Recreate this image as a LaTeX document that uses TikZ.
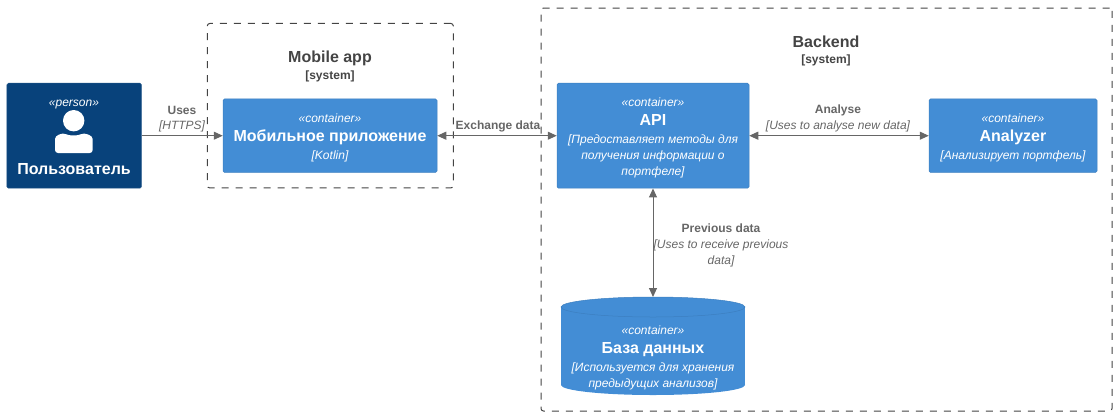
\documentclass[tikz,border=0pt]{standalone}
\usepackage{fontspec}
\setmainfont{Liberation Sans}
\usetikzlibrary{arrows.meta}
\definecolor{personblue}{HTML}{08427B}
\definecolor{containerblue}{HTML}{438DD5}
\definecolor{cylinderedge}{HTML}{3C7FC0}
\definecolor{boundarygrey}{HTML}{444444}
\definecolor{relgrey}{HTML}{666666}
\newcommand{\stereo}[1]{{\rule{0pt}{14bp}\fontsize{12bp}{16bp}\selectfont\itshape #1}}
\newcommand{\boxname}[1]{{\fontsize{16bp}{19bp}\selectfont\bfseries #1}}
\newcommand{\boxdesc}[1]{{\fontsize{12bp}{16bp}\selectfont\itshape #1}}
\tikzset{
  boxbase/.style={rectangle,rounded corners=1.5bp,text=white,align=center,inner sep=0pt,
    font=\fontsize{12bp}{16bp}\selectfont},
  personbox/.style={boxbase,fill=personblue,draw=personblue!90!white,line width=.5bp},
  containerbox/.style={boxbase,fill=containerblue,draw=containerblue!90!black,line width=.5bp},
  boundary/.style={rectangle,draw=boundarygrey,line width=1bp,rounded corners=2.5bp,
    dash pattern=on 7bp off 7bp},
  boundarytitle/.style={text=boundarygrey,align=center,inner sep=0pt,
    font=\fontsize{16bp}{19bp}\selectfont\bfseries},
  boundarytag/.style={text=boundarygrey,inner sep=0pt,font=\fontsize{12bp}{16bp}\selectfont\bfseries},
  rel/.style={draw=relgrey,line width=1bp,-{Triangle[length=9bp,width=8bp]}},
  birel/.style={rel,{Triangle[length=9bp,width=8bp]}-{Triangle[length=9bp,width=8bp]}},
  reltitle/.style={text=relgrey,inner sep=0pt,font=\fontsize{12bp}{16bp}\selectfont\bfseries},
  reltech/.style={text=relgrey,inner sep=0pt,align=center,font=\fontsize{12bp}{16bp}\selectfont\itshape},
}
\begin{document}
\begin{tikzpicture}[x=1bp,y=-1bp]
  \useasboundingbox (0,0) rectangle (1116,416);
  % boundaries
  \node[boundary,minimum width=246bp,minimum height=164.5bp] (mobileBoundary) at (330.3,105.7) {};
  \node[boundary,minimum width=571bp,minimum height=403bp] (backendBoundary) at (826.5,209.5) {};
  \node[boundarytitle] (mobileTitle) at (330,58.5) {Mobile app};
  \node[boundarytag] (mobileTag) at (330,76) {[system]};
  \node[boundarytitle] (backendTitle) at (826,42) {Backend};
  \node[boundarytag] (backendTag) at (826,60) {[system]};
  % person
  \node[personbox,minimum width=134.5bp,minimum height=105bp] (person) at (74.2,135.7) {};
  \node[text=white,inner sep=0pt,font=\fontsize{12bp}{16bp}\selectfont\itshape] (personTag) at (74,104.5) {«person»};
  \node[text=white,inner sep=0pt,font=\fontsize{16bp}{19bp}\selectfont\bfseries] (personName) at (74,169) {Пользователь};
  \fill[white] (73.7,120.7) circle (10.7);
  \fill[white,rounded corners=3bp] (55,153) -- (55,142)
    .. controls (55,135) and (62,133.5) .. (66,134)
    .. controls (70,135.5) and (77,135.5) .. (81,134)
    .. controls (85,133.5) and (92.7,135) .. (92.7,142) -- (92.7,153) -- cycle;
  % containers
  \node[containerbox,minimum width=214bp,minimum height=73.5bp] (mobile) at (330,135.7)
    {\stereo{«container»}\\[3bp]\boxname{Мобильное приложение}\\[2bp]\boxdesc{[Kotlin]}};
  \node[containerbox,minimum width=192bp,minimum height=105bp] (api) at (653,135.7)
    {\stereo{«container»}\\[3bp]\boxname{API}\\[2bp]\boxdesc{[Предоставляет методы для}\\\boxdesc{получения информации о}\\\boxdesc{портфеле]}};
  \node[containerbox,minimum width=168bp,minimum height=73.5bp] (analyzer) at (1013,135.7)
    {\stereo{«container»}\\[3bp]\boxname{Analyzer}\\[2bp]\boxdesc{[Анализирует портфель]}};
  % database cylinder
  \node[minimum width=184bp,minimum height=98bp,inner sep=0pt,outer sep=0pt] (database) at (653,346) {};
  \fill[containerblue] (561,307) rectangle (745,385);
  \fill[containerblue] (653,385) ellipse [x radius=92bp,y radius=10bp];
  \filldraw[fill=containerblue,draw=cylinderedge,line width=.5bp] (653,307) ellipse [x radius=92bp,y radius=10bp];
  \node[text=white,align=center,inner sep=0pt,font=\fontsize{12bp}{16bp}\selectfont] (databaseText) at (653,355.5)
    {\stereo{«container»}\\[3bp]\boxname{База данных}\\[2bp]\boxdesc{[Используется для хранения}\\\boxdesc{предыдущих анализов]}};
  % relations
  \draw[rel] (person.east) -- (mobile.west);
  \draw[birel] (mobile.east) -- (api.west);
  \draw[birel] (api.east) -- (analyzer.west);
  \draw[birel] (api.south) -- (database.north);
  \node[reltitle] (usesTitle) at (182,110) {Uses};
  \node[reltech] (usesTech) at (182,126) {[HTTPS]};
  \node[reltitle] (exchangeTitle) at (498,126) {Exchange data};
  \node[reltitle] (analyseTitle) at (838,110) {Analyse};
  \node[reltech] (analyseTech) at (838,126) {[Uses to analyse new data]};
  \node[reltitle] (previousTitle) at (721,228.5) {Previous data};
  \node[reltech] (previousTech) at (721,253) {[Uses to receive previous\\data]};
\end{tikzpicture}
\end{document}
